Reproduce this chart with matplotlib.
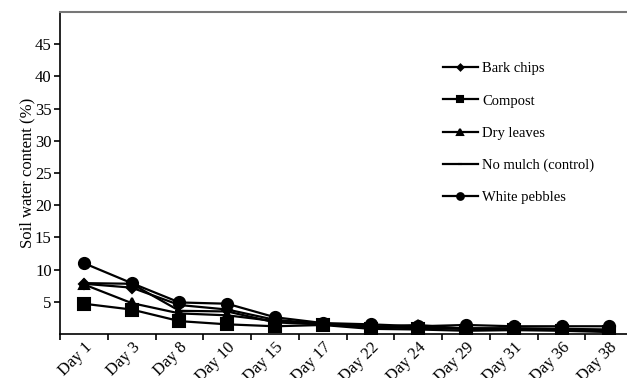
import matplotlib.pyplot as plt
import numpy as np

days = ['Day 1', 'Day 3', 'Day 8', 'Day 10', 'Day 15', 'Day 17',
        'Day 22', 'Day 24', 'Day 29', 'Day 31', 'Day 36', 'Day 38']

bark_chips = [7.8, 7.2, 4.5, 3.8, 2.2, 1.6, 1.2, 1.0, 0.9, 0.9, 0.8, 0.7]
compost = [4.7, 3.8, 2.0, 1.5, 1.2, 1.4, 0.8, 0.7, 0.5, 0.6, 0.5, 0.3]
dry_leaves = [7.7, 4.8, 3.2, 2.9, 2.0, 1.5, 1.1, 1.4, 0.8, 0.8, 0.7, 0.5]
no_mulch = [7.9, 7.8, 3.6, 3.5, 1.8, 1.5, 1.1, 0.9, 0.8, 0.7, 0.7, 0.6]
white_pebbles = [11.0, 7.9, 4.9, 4.7, 2.6, 1.7, 1.5, 1.2, 1.4, 1.2, 1.2, 1.2]

plt.rcParams['font.family'] = ['Liberation Serif', 'DejaVu Serif']

fig = plt.figure(figsize=(6.27, 3.78), dpi=100)
ax = fig.add_axes([60/627, 1 - 334/378, 1 - 60/627 + 0.01, (334 - 12)/378])

x = np.arange(len(days))
series = [
    ('Bark chips', bark_chips, 'D', 5),
    ('Compost', compost, 's', 8),
    ('Dry leaves', dry_leaves, '^', 7),
    ('No mulch (control)', no_mulch, '_', 6),
    ('White pebbles', white_pebbles, 'o', 8),
]
for name, vals, m, ms in series:
    ax.plot(x, vals, color='black', lw=1.6, marker=m, ms=ms, mew=1.5, label=name)

ax.set_xlim(-0.48, 11.4)
ax.set_ylim(0, 50)
ax.set_yticks([5, 10, 15, 20, 25, 30, 35, 40, 45])
ax.set_xticks(x)
ax.set_xticklabels(days, rotation=45, ha='right', va='top', rotation_mode='anchor')
for lab in ax.get_xticklabels():
    lab.set_x(lab.get_position()[0])
ax.set_xticks(np.arange(-0.5, 12, 1), minor=True)
ax.tick_params(axis='x', which='major', length=0, labelsize=12, pad=4)
ax.tick_params(axis='x', which='minor', length=4, width=1.2, direction='out')
ax.tick_params(axis='y', length=4, width=1.2, labelsize=12, pad=2)

ax.spines['right'].set_visible(False)
ax.spines['top'].set_color('#777777')
ax.spines['top'].set_linewidth(1.5)
ax.spines['left'].set_linewidth(1.2)
ax.spines['bottom'].set_linewidth(1.2)

ax.set_ylabel('Soil water content (%)', fontsize=12, labelpad=0)

leg = ax.legend(loc='upper left', bbox_to_anchor=(0.645, 0.885), frameon=False,
                fontsize=10.5, markerscale=0.6, handlelength=2.4, handletextpad=0.3,
                labelspacing=1.3)

fig.savefig('out.png', dpi=100)
